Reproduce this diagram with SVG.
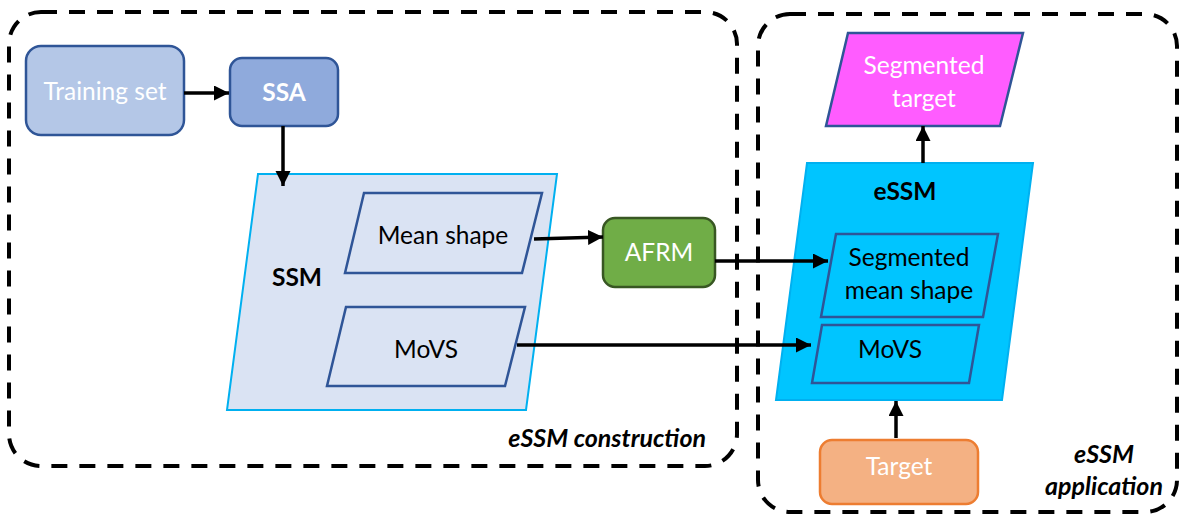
<svg xmlns="http://www.w3.org/2000/svg" width="1184" height="517" viewBox="0 0 1184 517">
<defs>
<marker id="ah" markerUnits="userSpaceOnUse" markerWidth="16" markerHeight="16" refX="15" refY="7.5" orient="auto">
<path d="M0,0 L15,7.5 L0,15 z" fill="#000"/>
</marker>
<style>
.t{font-family:Lato,"Liberation Sans",sans-serif;font-size:24.5px;text-anchor:middle}
.w{fill:#fff}
.k{fill:#000}
.b{font-weight:bold}
.lab{font-family:Lato,"Liberation Sans",sans-serif;font-size:25px;font-weight:bold;font-style:italic;fill:#000}
.dash{fill:none;stroke:#000;stroke-width:4;stroke-dasharray:16 12}
.conn{fill:none;stroke:#000;stroke-width:3.5;marker-end:url(#ah)}
.inner{stroke:#2f5597;stroke-width:2.5}
</style>
</defs>
<rect width="1184" height="517" fill="#fff"/>
<g id="group-construction">
<rect class="dash" x="9" y="12" width="728" height="454" rx="32"/>
<text class="lab" x="706" y="447" text-anchor="end">eSSM construction</text>
</g>
<g id="group-application">
<rect class="dash" x="758" y="14" width="419" height="498" rx="32"/>
<text class="lab" x="1104" y="463" text-anchor="middle">eSSM</text>
<text class="lab" x="1104" y="495" text-anchor="middle">application</text>
</g>
<g id="training-set">
<rect x="26" y="46" width="158" height="89" rx="15" fill="#b4c7e7" stroke="#2f5597" stroke-width="2.5"/>
<text class="t w" x="105" y="100">Training set</text>
</g>
<g id="ssa">
<rect x="230" y="58" width="108" height="68" rx="12" fill="#8faadc" stroke="#2f5597" stroke-width="2.5"/>
<text class="t w b" x="284" y="101">SSA</text>
</g>
<g id="ssm">
<polygon points="258,174 557,174 526,410 227,410" fill="#dae3f3" stroke="#00b0f0" stroke-width="2"/>
<text class="t k b" x="297" y="286">SSM</text>
</g>
<g id="mean-shape">
<polygon class="inner" points="364,193 542,193 522,273 345,273" fill="#dae3f3"/>
<text class="t k" x="443" y="244">Mean shape</text>
</g>
<g id="movs-ssm">
<polygon class="inner" points="346,307 525,307 505,386 327,386" fill="#dae3f3"/>
<text class="t k" x="426" y="358">MoVS</text>
</g>
<g id="afrm">
<rect x="603" y="218" width="112" height="69" rx="12" fill="#70ad47" stroke="#385723" stroke-width="2.5"/>
<text class="t w" x="659" y="261">AFRM</text>
</g>
<g id="essm">
<polygon points="807,163 1033,163 1002,400 776,400" fill="#00c5ff" stroke="#00b0f0" stroke-width="2"/>
<text class="t k b" x="905" y="200">eSSM</text>
</g>
<g id="segmented-mean-shape">
<polygon class="inner" points="836,234 998,234 983,317 821,317" fill="none"/>
<text class="t k" x="909" y="266">Segmented</text>
<text class="t k" x="909" y="299">mean shape</text>
</g>
<g id="movs-essm">
<polygon class="inner" points="822,325 979,325 969,383 812,383" fill="none"/>
<text class="t k" x="890" y="358">MoVS</text>
</g>
<g id="segmented-target">
<polygon points="848,33 1023,33 1000,126 826,126" fill="#ff5cff" stroke="#2f5597" stroke-width="2.5"/>
<text class="t w" x="924" y="74">Segmented</text>
<text class="t w" x="924" y="107">target</text>
</g>
<g id="target">
<rect x="820" y="440" width="158" height="64" rx="12" fill="#f4b183" stroke="#ed7d31" stroke-width="2.5"/>
<text class="t w" x="899" y="475">Target</text>
</g>
<g id="connectors">
<line class="conn" x1="184" y1="93" x2="229" y2="93"/>
<line class="conn" x1="283" y1="126" x2="283" y2="186"/>
<line class="conn" x1="534" y1="239" x2="603" y2="237"/>
<line class="conn" x1="715" y1="261" x2="828" y2="261"/>
<line class="conn" x1="517" y1="345" x2="811" y2="345"/>
<line class="conn" x1="896" y1="438" x2="896" y2="401"/>
<line class="conn" x1="923" y1="163" x2="923" y2="126"/>
</g>
</svg>
